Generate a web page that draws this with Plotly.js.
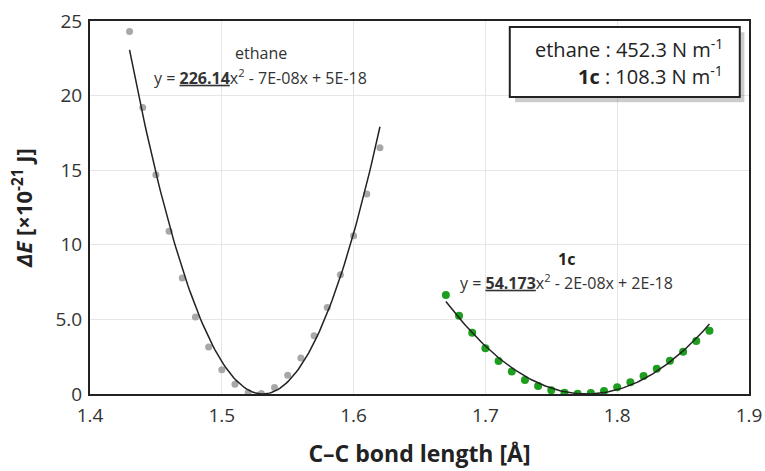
<!DOCTYPE html>
<html>
<head>
<meta charset="utf-8">
<script src="https://cdn.plot.ly/plotly-3.0.1.min.js"></script>
<style>html,body{margin:0;padding:0;background:#fff;}#chart{width:765px;height:471px;}</style>
</head>
<body>
<div id="chart"></div>
<script>
// Ethane data points (bond length Å, ΔE ×10^-21 J)
const ethaneX = [1.43,1.44,1.45,1.46,1.47,1.48,1.49,1.50,1.51,1.52,1.53,1.54,1.55,1.56,1.57,1.58,1.59,1.60,1.61,1.62];
const ethaneY = [24.3,19.2,14.7,10.9,7.77,5.16,3.15,1.62,0.65,0.1,0.03,0.44,1.25,2.42,3.9,5.8,8.0,10.6,13.4,16.5];
// 1c data points
const c1X = [1.67,1.68,1.69,1.70,1.71,1.72,1.73,1.74,1.75,1.76,1.77,1.78,1.79,1.80,1.81,1.82,1.83,1.84,1.85,1.86,1.87];
const c1Y = [6.64,5.25,4.11,3.06,2.21,1.50,0.94,0.54,0.25,0.09,0.02,0.07,0.2,0.45,0.78,1.2,1.7,2.23,2.84,3.55,4.24];
// Trendline parameters as printed (quadratic coefficient, N m^-1), vertex and range
const ethaneFit = {a: 226.14, x0: 1.531, from: 1.43, to: 1.62};
const c1Fit = {a: 54.173, x0: 1.777, from: 1.67, to: 1.87};
// Tick labels
const xTicks = [1.4,1.5,1.6,1.7,1.8,1.9];
const xTickText = ['1.4','1.5','1.6','1.7','1.8','1.9'];
const yTicks = [0,5,10,15,20,25];
const yTickText = ['0','5.0','10','15','20','25'];

function fitCurve(f){
  const xs=[], ys=[]; const n=120;
  for(let i=0;i<=n;i++){
    const x=f.from+(f.to-f.from)*i/n; const dx=x-f.x0;
    xs.push(x); ys.push(10*f.a*dx*dx); // N/m * Å^2 -> ×10^-21 J
  }
  return {xs, ys};
}
const ef = fitCurve(ethaneFit), cf = fitCurve(c1Fit);

const font = "'Open Sans', 'Noto Sans', sans-serif";
const data = [
  {x: ethaneX, y: ethaneY, type:'scatter', mode:'markers', marker:{color:'#a8a8a8', size:7}, hoverinfo:'skip'},
  {x: c1X, y: c1Y, type:'scatter', mode:'markers', marker:{color:'#1e9e1e', size:8}, hoverinfo:'skip'},
  {x: ef.xs, y: ef.ys, type:'scatter', mode:'lines', line:{color:'#222', width:1.5}, hoverinfo:'skip'},
  {x: cf.xs, y: cf.ys, type:'scatter', mode:'lines', line:{color:'#222', width:1.5}, hoverinfo:'skip'}
];

const layout = {
  width:765, height:471,
  margin:{l:90, r:16, t:21, b:77},
  paper_bgcolor:'#fff', plot_bgcolor:'#fff',
  showlegend:false,
  font:{family:font, color:'#333'},
  xaxis:{range:[1.4,1.9], tickvals:xTicks, ticktext:xTickText, showgrid:true, gridcolor:'#e6e6e6', gridwidth:1,
    showline:true, linecolor:'#222', linewidth:2, mirror:true, zeroline:false, ticks:'', ticklabelstandoff:3,
    tickfont:{size:19, color:'#333', family:font},
    title:{text:'<b>C–C bond length [Å]</b>', font:{size:23, color:'#222', family:font}, standoff:19}},
  yaxis:{range:[0,25], tickvals:yTicks, ticktext:yTickText, showgrid:true, gridcolor:'#e6e6e6', gridwidth:1,
    showline:true, linecolor:'#222', linewidth:2, mirror:true, zeroline:false, ticks:'', ticklabelstandoff:2,
    tickfont:{size:19, color:'#333', family:font},
    title:{text:'<b><i>ΔE</i> [×10<sup>-21</sup> J]</b>', font:{size:22, color:'#222', family:font}, standoff:17}},
  shapes:[
    {type:'rect', xref:'paper', yref:'paper', x0:0.645, x1:0.993, y0:0.782, y1:0.970, fillcolor:'rgba(0,0,0,0.2)', line:{width:0}},
    {type:'rect', xref:'paper', yref:'paper', x0:0.637, x1:0.986, y0:0.796, y1:0.984, fillcolor:'#fff', line:{color:'#222', width:2}}
  ],
  annotations:[
    {xref:'paper', yref:'paper', x:0.963, y:0.925, xanchor:'right', yanchor:'middle', showarrow:false, align:'right',
      text:'ethane : 452.3 N m<sup>-1</sup>', font:{size:20, color:'#222', family:font}},
    {xref:'paper', yref:'paper', x:0.963, y:0.853, xanchor:'right', yanchor:'middle', showarrow:false, align:'right',
      text:'<b>1c</b> : 108.3 N m<sup>-1</sup>', font:{size:20, color:'#222', family:font}},
    {xref:'x', yref:'y', x:1.5295, y:22.85, showarrow:false, text:'ethane', font:{size:16, color:'#333', family:font}},
    {xref:'x', yref:'y', x:1.5295, y:21.25, showarrow:false, text:'y = <b><u>226.14</u></b>x<sup>2</sup> - 7E-08x + 5E-18', font:{size:16, color:'#333', family:font}},
    {xref:'x', yref:'y', x:1.7612, y:9.06, showarrow:false, text:'<b>1c</b>', font:{size:16, color:'#222', family:font}},
    {xref:'x', yref:'y', x:1.7612, y:7.5, showarrow:false, text:'y = <b><u>54.173</u></b>x<sup>2</sup> - 2E-08x + 2E-18', font:{size:16, color:'#333', family:font}}
  ]
};
Plotly.newPlot('chart', data, layout, {staticPlot:true, displayModeBar:false});
</script>
</body>
</html>
